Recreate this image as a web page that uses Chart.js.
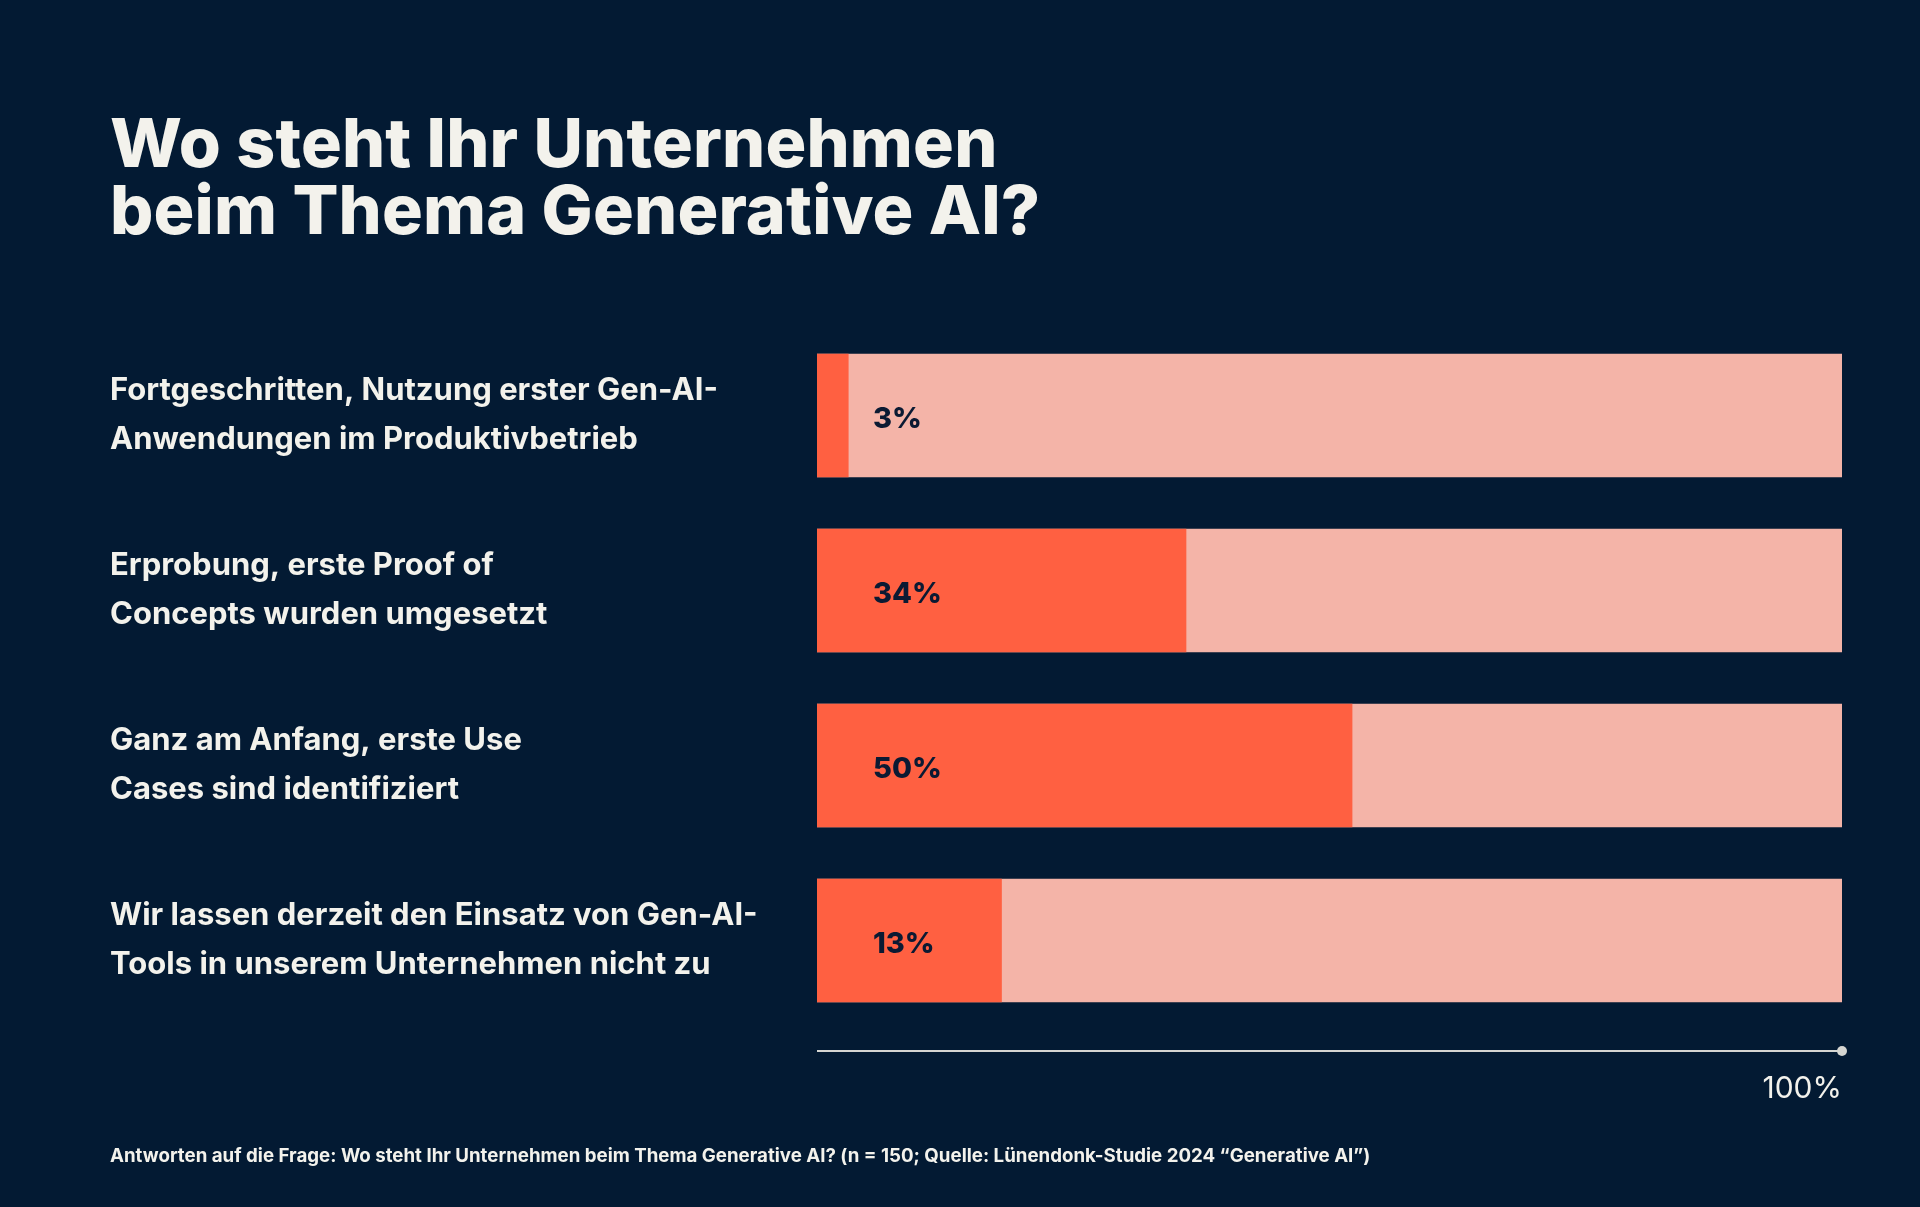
<!DOCTYPE html>
<html lang="de">
<head>
<meta charset="utf-8">
<title>Wo steht Ihr Unternehmen beim Thema Generative AI?</title>
<script src="https://cdn.jsdelivr.net/npm/chart.js@4.4.1/dist/chart.umd.min.js"></script>
<style>
  html, body { margin: 0; padding: 0; background: #031a33; }
  #wrap { position: relative; width: 1920px; height: 1207px; overflow: hidden; font-family: Inter, 'Noto Sans', sans-serif; color: #f3f2ec; }
  #title { position: absolute; left: 110px; top: 109px; margin: 0; font-size: 68px; line-height: 67px; font-weight: 800; letter-spacing: 0.2px; }
  #note { position: absolute; left: 110px; top: 1144px; font-size: 18.7px; font-weight: 700; white-space: nowrap; }
  canvas { position: absolute; left: 0; top: 0; }
</style>
</head>
<body>
<div id="wrap">
  <canvas id="chart" width="1920" height="1207"></canvas>
  <h1 id="title">Wo steht Ihr Unternehmen<br>beim Thema Generative AI?</h1>
  <div id="note">Antworten auf die Frage: Wo steht Ihr Unternehmen beim Thema Generative AI? (n = 150; Quelle: Lünendonk-Studie 2024 “Generative AI”)</div>
</div>
<script>
// Answer categories (two lines each)
const categories = [
    ['Fortgeschritten, Nutzung erster Gen-AI-', 'Anwendungen im Produktivbetrieb'],
    ['Erprobung, erste Proof of', 'Concepts wurden umgesetzt'],
    ['Ganz am Anfang, erste Use', 'Cases sind identifiziert'],
    ['Wir lassen derzeit den Einsatz von Gen-AI-', 'Tools in unserem Unternehmen nicht zu']
];

// Printed shares in percent
const answerShares = [3, 34, 50, 13];

// Bar lengths as drawn in the graphic (percent of the full track)
const barLengths = [3.05, 36, 52.2, 18];

// Full background track
const trackValues = [100, 100, 100, 100];

// Axis ticks
const axisTicks = [100];

// Colors
const ORANGE = '#ff6041';
const PALE = '#f4b4a8';
const NAVY = '#0b1a33';
const LIGHT = '#f3f2ec';

// Percentage labels inside the bars
const valueLabels = {
    id: 'valueLabels',
    afterDatasetsDraw(chart) {
        const ctx = chart.ctx;
        const meta = chart.getDatasetMeta(0);
        const x0 = chart.scales.x.getPixelForValue(0);
        ctx.save();
        ctx.font = '800 29px Inter';
        ctx.fillStyle = NAVY;
        ctx.textBaseline = 'middle';
        ctx.textAlign = 'left';
        meta.data.forEach((bar, i) => {
            ctx.fillText(answerShares[i] + '%', x0 + 56, bar.y + 4);
        });
        ctx.restore();
    }
};

// Thin scale line below the bars with a dot at 100%
const axisLine = {
    id: 'axisLine',
    afterDraw(chart) {
        const ctx = chart.ctx;
        const xScale = chart.scales.x;
        const y = chart.chartArea.bottom + 23;
        const xStart = xScale.getPixelForValue(0);
        const xEnd = xScale.getPixelForValue(100);
        ctx.save();
        ctx.strokeStyle = '#d6d6d2';
        ctx.lineWidth = 2;
        ctx.beginPath();
        ctx.moveTo(xStart, y);
        ctx.lineTo(xEnd, y);
        ctx.stroke();
        ctx.fillStyle = '#d6d6d2';
        ctx.beginPath();
        ctx.arc(xEnd, y, 5, 0, Math.PI * 2);
        ctx.fill();
        ctx.restore();
    }
};

const ctx = document.getElementById('chart').getContext('2d');
const chart = new Chart(ctx, {
    type: 'bar',
    data: {
        labels: categories,
        datasets: [
            {
                data: barLengths,
                backgroundColor: ORANGE,
                borderWidth: 0,
                barThickness: 123,
                grouped: false
            },
            {
                data: trackValues,
                backgroundColor: PALE,
                borderWidth: 0,
                barThickness: 123,
                grouped: false
            }
        ]
    },
    options: {
        indexAxis: 'y',
        responsive: false,
        animation: false,
        layout: {
            padding: { left: 110, top: 328, right: 78, bottom: 79 }
        },
        plugins: {
            legend: { display: false },
            tooltip: { enabled: false }
        },
        scales: {
            x: {
                min: 0,
                max: 100,
                position: 'bottom',
                grid: { display: false, drawTicks: false },
                border: { display: false },
                afterBuildTicks: scale => {
                    scale.ticks = axisTicks.map(v => ({ value: v }));
                },
                afterFit: scale => {
                    scale.height = 100;
                },
                ticks: {
                    align: 'end',
                    padding: 43,
                    color: LIGHT,
                    font: { family: 'Inter', size: 30, weight: 400 },
                    callback: v => v + '%'
                }
            },
            y: {
                grid: { display: false, drawTicks: false },
                border: { display: false },
                afterFit: scale => {
                    scale.width = 707;
                },
                ticks: {
                    crossAlign: 'far',
                    padding: 0,
                    color: LIGHT,
                    font: { family: 'Inter', size: 31, weight: 700, lineHeight: 1.59 }
                }
            }
        }
    },
    plugins: [valueLabels, axisLine]
});
</script>
</body>
</html>
